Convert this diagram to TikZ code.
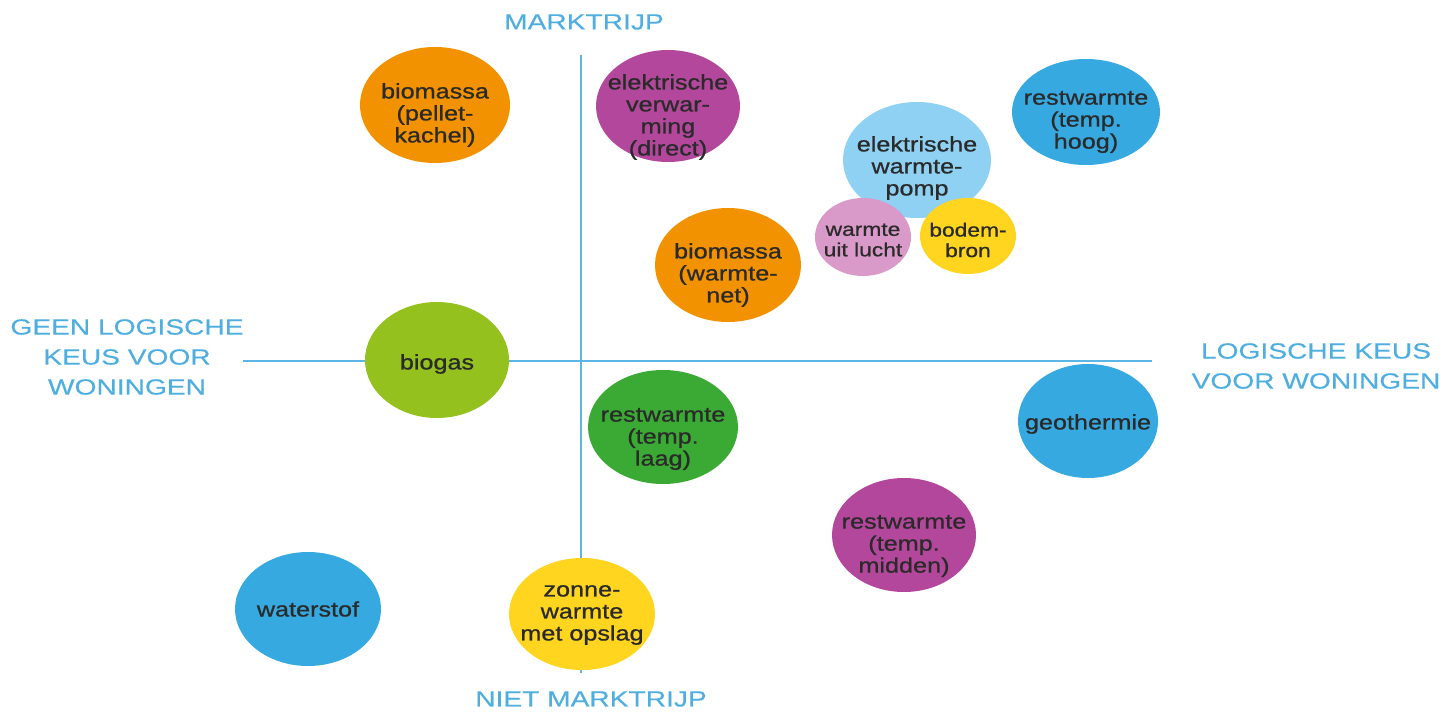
\documentclass[tikz,border=0pt]{standalone}
\usepackage{fontspec}
\setmainfont{Liberation Sans}
\newfontfamily\axisfont{Liberation Sans}[FakeStretch=1.28, FakeBold=0.3]
\newfontfamily\bubblefont{Liberation Sans}[FakeStretch=1.2, FakeBold=0.8]
\usetikzlibrary{shapes.geometric}
\definecolor{axisline}{HTML}{5DB5E5}
\definecolor{axislabel}{HTML}{4FAEE0}
\definecolor{bubbletext}{HTML}{2A2A2A}
\definecolor{orangebio}{HTML}{F39200}
\definecolor{magentael}{HTML}{B3479B}
\definecolor{bluerest}{HTML}{36A9E1}
\definecolor{lightpomp}{HTML}{8ED1F3}
\definecolor{pinklucht}{HTML}{D99AC9}
\definecolor{yellowzon}{HTML}{FFD51F}
\definecolor{greengas}{HTML}{95C11F}
\definecolor{greenlaag}{HTML}{3AAA35}
\tikzset{
  every picture/.style = {
    x = 1pt,
    y = -1pt,
  }
  ,
  axis/.style = {
    draw = axisline,
    line width = 2pt
  }
  , % labels of the axes
  label-axis/.style = {
    text = axislabel,
    font = \axisfont\fontsize{22}{30}\selectfont,
    align = center
  }
  ,
  bubble/.style = {
    ellipse,
    inner sep = 0pt,
    minimum width = 146pt,
    minimum height = 114pt
  }
  ,
  small-bubble/.style = {
    bubble,
    minimum width = 96pt,
    minimum height = 78pt
  }
  , % labels of bubbles
  label-bubble/.style = {
    font = \bubblefont\fontsize{21}{22}\selectfont,
    text = bubbletext,
    align = center
  }
  ,
  label-small/.style = {
    label-bubble,
    font = \bubblefont\fontsize{19}{20.5}\selectfont
  }
}
\begin{document}
\begin{tikzpicture}
\useasboundingbox (0,0) rectangle (1445,712);
% axes
\coordinate (top) at (581,55);
\coordinate (bottom) at (581,673);
\coordinate (left) at (243,361);
\coordinate (right) at (1152,361);
\draw[axis] (top) -- (bottom);
\draw[axis] (left) -- (right);
\node[label-axis] (markt) at (584,22) {MARKTRIJP};
\node[label-axis] (nietmarkt) at (591,699) {NIET MARKTRIJP};
\node[label-axis] (geen) at (127,357) {GEEN LOGISCHE\\KEUS VOOR\\WONINGEN};
\node[label-axis] (logisch) at (1316,366) {LOGISCHE KEUS\\VOOR WONINGEN};
% bubbles
\node[bubble, fill=orangebio, minimum width=150pt, minimum height=116pt,
  label={[label-bubble, yshift=-10pt]center:biomassa\\(pellet-\\kachel)}] (pellet) at (435,105) {};
\node[bubble, fill=magentael, minimum width=144pt, minimum height=112pt,
  label={[label-bubble, yshift=-11pt]center:elektrische\\verwar-\\ming\\(direct)}] (direct) at (668,106) {};
\node[bubble, fill=bluerest, minimum width=148pt, minimum height=106pt,
  label={[label-bubble, yshift=-10pt]center:restwarmte\\(temp.\\hoog)}] (hoog) at (1086,112) {};
\node[bubble, fill=lightpomp, minimum width=148pt, minimum height=116pt,
  label={[label-bubble, yshift=-8pt]center:elektrische\\warmte-\\pomp}] (pomp) at (917,160) {};
\node[small-bubble, fill=pinklucht,
  label={[label-small, yshift=-3pt]center:warmte\\uit lucht}] (lucht) at (863,237) {};
\node[small-bubble, fill=yellowzon, minimum height=76pt,
  label={[label-small, yshift=-4pt]center:bodem-\\bron}] (bodem) at (968,236) {};
\node[bubble, fill=orangebio,
  label={[label-bubble, yshift=-10pt]center:biomassa\\(warmte-\\net)}] (warmtenet) at (728,265) {};
\node[bubble, fill=greengas, minimum width=144pt, minimum height=116pt,
  label={[label-bubble, yshift=-4pt]center:biogas}] (biogas) at (437,360) {};
\node[bubble, fill=greenlaag, minimum width=150pt,
  label={[label-bubble, yshift=-12pt]center:restwarmte\\(temp.\\laag)}] (laag) at (663,427) {};
\node[bubble, fill=bluerest, minimum width=140pt,
  label={[label-bubble, yshift=-3pt]center:geothermie}] (geo) at (1088,421) {};
\node[bubble, fill=magentael, minimum width=144pt,
  label={[label-bubble, yshift=-11pt]center:restwarmte\\(temp.\\midden)}] (midden) at (904,535) {};
\node[bubble, fill=bluerest,
  label={[label-bubble]center:waterstof}] (waterstof) at (308,609) {};
\node[bubble, fill=yellowzon, minimum height=112pt,
  label={[label-bubble, yshift=-1pt]center:zonne-\\warmte\\met opslag}] (zon) at (582,614) {};
\end{tikzpicture}
\end{document}
